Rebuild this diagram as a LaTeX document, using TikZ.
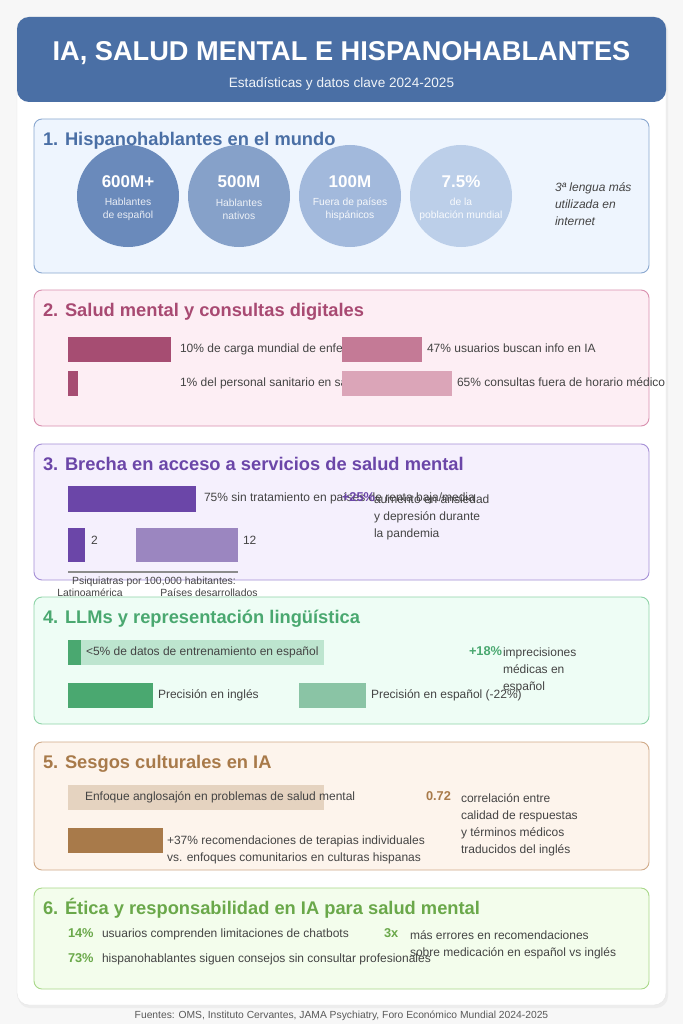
\documentclass[tikz,border=0pt]{standalone}
\usepackage{fontspec}
\setmainfont{Liberation Sans}
\newcommand\fsz[2]{\fontsize{#1}{#2}\selectfont}
\definecolor{pagebg}{HTML}{F7F7F7}
\definecolor{hdr}{HTML}{4A6FA5}
\definecolor{bodytxt}{HTML}{444444}
\definecolor{sAfill}{HTML}{EEF5FE}\definecolor{sAline}{HTML}{8AA8D0}\definecolor{sAtit}{HTML}{4A6FA5}
\definecolor{sBfill}{HTML}{FDEEF4}\definecolor{sBline}{HTML}{D98FAE}\definecolor{sBtit}{HTML}{A84A72}
\definecolor{sCfill}{HTML}{F5F0FD}\definecolor{sCline}{HTML}{A58FD6}\definecolor{sCtit}{HTML}{6B46A8}
\definecolor{sDfill}{HTML}{EEFDF5}\definecolor{sDline}{HTML}{8FD4A8}\definecolor{sDtit}{HTML}{4AA870}
\definecolor{sEfill}{HTML}{FDF4EC}\definecolor{sEline}{HTML}{D0AA88}\definecolor{sEtit}{HTML}{A87A4A}
\definecolor{sFfill}{HTML}{F3FDEC}\definecolor{sFline}{HTML}{A8D888}\definecolor{sFtit}{HTML}{6AA84A}
\definecolor{cA}{HTML}{6A8ABB}\definecolor{cB}{HTML}{86A1C9}\definecolor{cC}{HTML}{A2B9DC}\definecolor{cD}{HTML}{BCCFE9}
\definecolor{bB1}{HTML}{A64D72}\definecolor{bB2}{HTML}{C47A96}\definecolor{bB3}{HTML}{DBA5B8}
\definecolor{bC1}{HTML}{6B46A8}\definecolor{bC2}{HTML}{9B86C0}
\definecolor{bD1}{HTML}{4AA870}\definecolor{bD2}{HTML}{BDE5CF}\definecolor{bD3}{HTML}{8AC4A5}
\definecolor{bE1}{HTML}{A87A4A}\definecolor{bE2}{HTML}{E5D3C0}
\begin{document}
\begin{tikzpicture}[x=1pt,y=-1pt,
  every node/.style={inner sep=0pt,outer sep=0pt},
  secbox/.style={rounded corners=8pt,line width=0.9pt},
  sectitle/.style={anchor=mid west,font=\fsz{18.3}{22}\bfseries},
  body/.style={anchor=mid west,font=\fsz{12}{17},text=bodytxt},
  bodyml/.style={anchor=north west,font=\fsz{12}{17},text=bodytxt,align=left},
  small/.style={font=\fsz{10.4}{12},text=bodytxt},
  bignum/.style={font=\fsz{17}{19}\bfseries,text=white},
  circlab/.style={font=\fsz{10.3}{13},text=white,align=center},
  stat/.style={anchor=mid west,font=\fsz{12.8}{15}\bfseries}]
\useasboundingbox (0,0) rectangle (683,1024);
\fill[pagebg] (0,0) rectangle (683,1024);
% card
\fill[black!7,rounded corners=12pt] (18,19) rectangle (668,1008);
\filldraw[fill=white,draw=black!10,rounded corners=12pt] (17,17) rectangle (666,1005);
\fill[hdr,rounded corners=12pt] (17,17) rectangle (666,102);
\node[font=\fsz{27.2}{31}\bfseries,text=white] (title) at (341.5,53) {IA, SALUD MENTAL E HISPANOHABLANTES};
\node[font=\fsz{13.6}{15},text=white!92!hdr] (subtitle) at (341.5,84) {Estadísticas y datos clave 2024-2025};

% ---------- Section 1
\filldraw[secbox,fill=sAfill,draw=sAline] (34,119) rectangle (649,273);
\node[circle,fill=cA,minimum size=102pt] (c1) at (128,196) {};
\node[circle,fill=cB,minimum size=102pt] (c2) at (239,196) {};
\node[circle,fill=cC,minimum size=102pt] (c3) at (350,196) {};
\node[circle,fill=cD,minimum size=102pt] (c4) at (461,196) {};
\node[sectitle,text=sAtit] (t1) at (43,143) {1. Hispanohablantes en el mundo};
\node[bignum] (n1) at (128,182) {600M+};
\node[bignum] (n2) at (239,182) {500M};
\node[bignum] (n3) at (350,182) {100M};
\node[bignum] (n4) at (461,182) {7.5\%};
\node[circlab,text=white!85!cA] (l1) at (128,209) {Hablantes\\de español};
\node[circlab,text=white!85!cB] (l2) at (239,209) {Hablantes\\nativos};
\node[circlab,text=white!90!cC] (l3) at (350,209) {Fuera de países\\hispánicos};
\node[circlab,text=white!90!cD] (l4) at (461,209) {de la\\población mundial};
\node[anchor=north west,font=\fsz{12}{17}\itshape,text=bodytxt,align=left] (lang) at (555,183) {3ª lengua más\\utilizada en\\internet};

% ---------- Section 2
\filldraw[secbox,fill=sBfill,draw=sBline] (34,290) rectangle (649,426);
\node[sectitle,text=sBtit] (t2) at (43,314) {2. Salud mental y consultas digitales};
\fill[bB1] (68,337) rectangle (171,362);
\node[body] (b2a) at (180,350) {10\% de carga mundial de enfermedades};
\fill[bB1] (68,371) rectangle (78,396);
\node[body] (b2b) at (180,384) {1\% del personal sanitario en salud mental};
\fill[bB2] (342,337) rectangle (422,362);
\node[body] (b2c) at (427,350) {47\% usuarios buscan info en IA};
\fill[bB3] (342,371) rectangle (452,396);
\node[body] (b2d) at (457,384) {65\% consultas fuera de horario médico};

% ---------- Section 3
\filldraw[secbox,fill=sCfill,draw=sCline] (34,444) rectangle (649,580);
\node[sectitle,text=sCtit] (t3) at (43,468) {3. Brecha en acceso a servicios de salud mental};
\fill[bC1] (68,486) rectangle (196,512);
\node[body] (b3a) at (204,499) {75\% sin tratamiento en países de renta baja/media};
\node[stat,text=sCtit] (p25) at (342,499) {+25\%};
\node[bodyml] (b3b) at (374,495) {aumento en ansiedad\\y depresión durante\\la pandemia};
\fill[bC1] (68,528) rectangle (85,562);
\node[body] (v2) at (91,542) {2};
\fill[bC2] (136,528) rectangle (238,562);
\node[body] (v12) at (243,542) {12};
\coordinate (axL) at (68,572);
\coordinate (axR) at (238,572);
\draw[line width=1.2pt,black!45] (axL) -- (axR);
\node[small] (psq) at (154,582) {Psiquiatras por 100,000 habitantes:};
\node[small] (lat) at (90,593) {Latinoamérica};
\node[small] (pdes) at (209,593) {Países desarrollados};

% ---------- Section 4
\filldraw[secbox,fill=sDfill,draw=sDline] (34,597) rectangle (649,724);
\node[sectitle,text=sDtit] (t4) at (43,621) {4. LLMs y representación lingüística};
\fill[bD2] (68,640) rectangle (324,665);
\fill[bD1] (68,640) rectangle (81,665);
\node[body] (b4a) at (86,653) {<5\% de datos de entrenamiento en español};
\node[stat,text=sDtit] (p18) at (469,653) {+18\%};
\node[bodyml] (b4b) at (503,648) {imprecisiones\\médicas en\\español};
\fill[bD1] (68,683) rectangle (153,708);
\node[body] (b4c) at (158,696) {Precisión en inglés};
\fill[bD3] (299,683) rectangle (366,708);
\node[body] (b4d) at (371,696) {Precisión en español (-22\%)};

% ---------- Section 5
\filldraw[secbox,fill=sEfill,draw=sEline] (34,742) rectangle (649,870);
\node[sectitle,text=sEtit] (t5) at (43,766) {5. Sesgos culturales en IA};
\fill[bE2] (68,785) rectangle (324,810);
\node[body] (b5a) at (85,798) {Enfoque anglosajón en problemas de salud mental};
\fill[bE1] (68,828) rectangle (163,853);
\node[bodyml] (b5b) at (167,836) {+37\% recomendaciones de terapias individuales\\vs. enfoques comunitarios en culturas hispanas};
\node[stat,text=sEtit] (p72) at (426,798) {0.72};
\node[bodyml] (b5c) at (461,794) {correlación entre\\calidad de respuestas\\y términos médicos\\traducidos del inglés};

% ---------- Section 6
\filldraw[secbox,fill=sFfill,draw=sFline] (34,888) rectangle (649,989);
\node[sectitle,text=sFtit] (t6) at (43,912) {6. Ética y responsabilidad en IA para salud mental};
\node[stat,text=sFtit] (p14) at (68,935) {14\%};
\node[body] (b6a) at (102,935) {usuarios comprenden limitaciones de chatbots};
\node[stat,text=sFtit] (p73) at (68,960) {73\%};
\node[body] (b6b) at (102,960) {hispanohablantes siguen consejos sin consultar profesionales};
\node[stat,text=sFtit] (p3x) at (384,935) {3x};
\node[bodyml] (b6c) at (410,931) {más errores en recomendaciones\\sobre medicación en español vs inglés};

% footer
\node[font=\fsz{10.3}{12},text=black!65] (foot) at (341.5,1016) {Fuentes: OMS, Instituto Cervantes, JAMA Psychiatry, Foro Económico Mundial 2024-2025};
\end{tikzpicture}
\end{document}
